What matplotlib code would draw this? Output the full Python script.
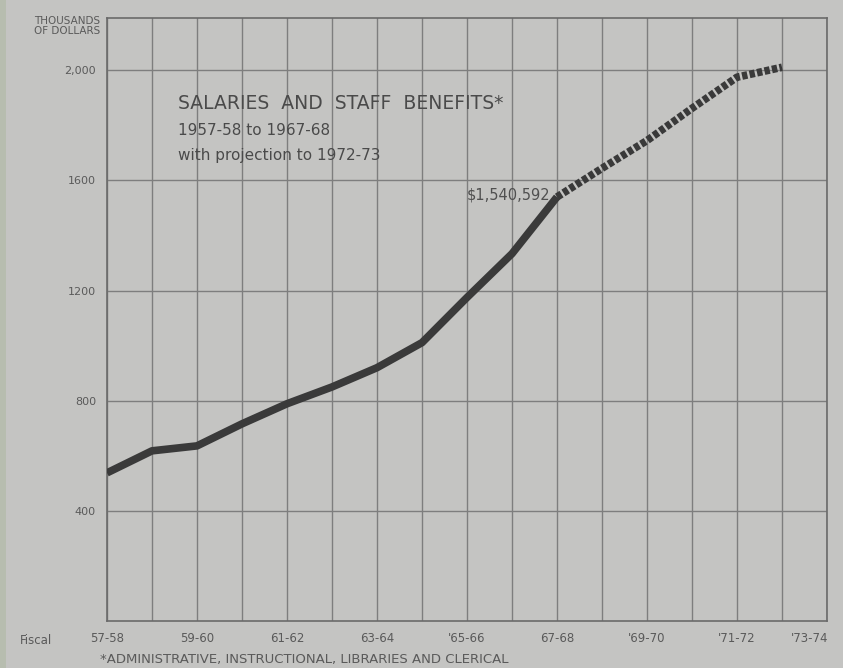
import matplotlib.pyplot as plt
from matplotlib.patches import Rectangle

# -------------------------
# Data (thousands of dollars)
# -------------------------
actual_x = list(range(0, 11))  # 1957-58 .. 1967-68
actual_vals = [538, 618, 636, 716, 789, 850, 920, 1011, 1175, 1334, 1540]

proj_x = list(range(10, 16))  # 1967-68 .. 1972-73
proj_vals = [1540, 1644, 1745, 1862, 1975, 2011]

tick_pos = [0, 2, 4, 6, 8, 10, 12, 14]
tick_labels = ["57-58", "59-60", "61-62", "63-64", "'65-66", "67-68", "'69-70", "'71-72"]
last_label = "'73-74"

y_ticks = [400, 800, 1200, 1600, 2000]
y_labels = ["400", "800", "1200", "1600", "2,000"]

BG = "#c4c4c2"
GRID = "#7e7e7e"
INK = "#3a3a3a"
TXT = "#5a5a5a"

fig = plt.figure(figsize=(8.43, 6.68), dpi=100)
fig.patch.set_facecolor(BG)

# greenish scan edge on the left
fig.patches.append(Rectangle((0, 0), 6 / 843, 1, transform=fig.transFigure,
                             facecolor="#b7bdaf", edgecolor="none"))

ax = fig.add_axes([107 / 843, 1 - 621 / 668, 720 / 843, 603 / 668])
ax.set_facecolor(BG)
ax.set_xlim(0, 16)
ax.set_ylim(0, 2190)

# grid
for gx in range(0, 17):
    ax.axvline(gx, color=GRID, lw=1.0, zorder=1)
for gy in y_ticks:
    ax.axhline(gy, color=GRID, lw=1.0, zorder=1)

for s in ax.spines.values():
    s.set_color("#6a6a6a")
    s.set_linewidth(1.2)

ax.set_xticks(tick_pos)
ax.set_xticklabels(tick_labels, fontsize=8.5, color=TXT)
ax.set_yticks(y_ticks)
ax.set_yticklabels(y_labels, fontsize=8, color=TXT)
ax.tick_params(length=0, pad=8)

# last fiscal label sits on the right border, nudged so it stays on the page
ax.text(15.62, -40, last_label, fontsize=8.5, color=TXT, ha="center", va="top",
        transform=ax.transData, clip_on=False)

# -------------------------
# Lines
# -------------------------
ax.plot(actual_x, actual_vals, color=INK, lw=5.5, solid_capstyle="butt",
        solid_joinstyle="round", zorder=3)
ax.plot(proj_x, proj_vals, color=INK, lw=5.5, linestyle=(0, (0.7, 0.3)),
        dash_capstyle="butt", zorder=3)

ax.text(9.85, 1548, "$1,540,592", ha="right", va="center", fontsize=10.5,
        color="#505050", zorder=4)

# -------------------------
# Titles
# -------------------------
ax.text(1.57, 1880, "SALARIES  AND  STAFF  BENEFITS*", fontsize=13.5,
        color="#4a4a4a", va="center")
ax.text(1.57, 1782, "1957-58 to 1967-68", fontsize=11, color="#4a4a4a", va="center")
ax.text(1.57, 1692, "with projection to 1972-73", fontsize=11, color="#4a4a4a",
        va="center")

fig.text(100 / 843, 1 - 26 / 668, "THOUSANDS\nOF DOLLARS", fontsize=7.5,
         color=TXT, ha="right", va="center", linespacing=1.0)
fig.text(20 / 843, 1 - 640 / 668, "Fiscal", fontsize=8.5, color=TXT,
         ha="left", va="center")
fig.text(100 / 843, 1 - 659 / 668,
         "*ADMINISTRATIVE, INSTRUCTIONAL, LIBRARIES AND CLERICAL",
         fontsize=9.5, color=TXT, ha="left", va="center")

plt.savefig("out.png", dpi=100, facecolor=BG)
plt.close()
